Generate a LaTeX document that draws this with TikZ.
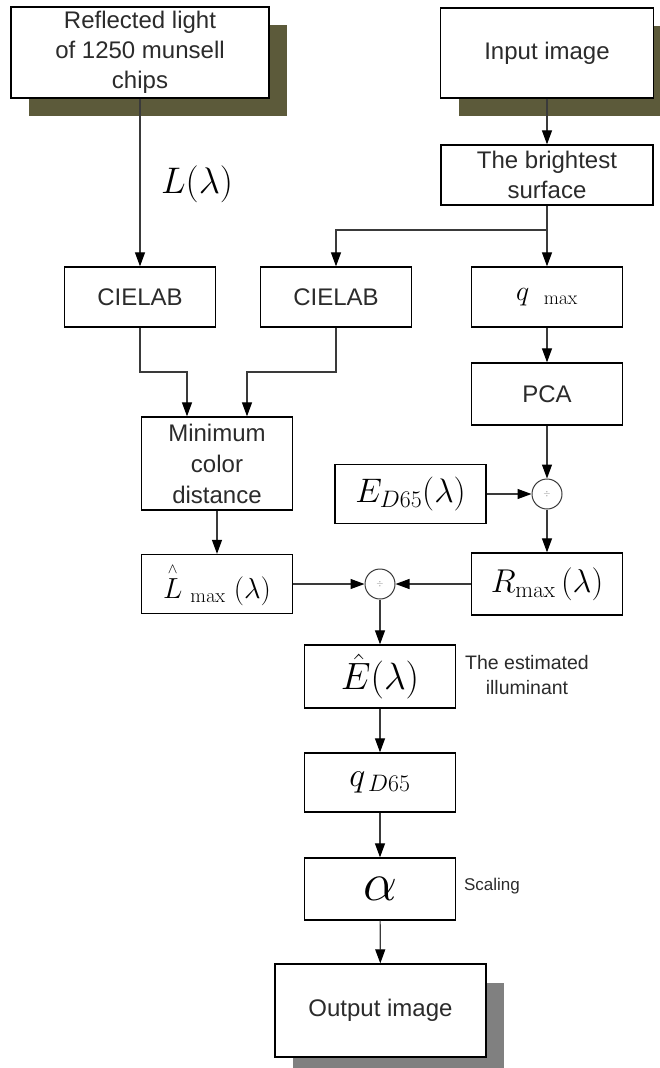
\RequirePackage{fix-cm}
\documentclass[tikz,border=0pt]{standalone}
\usepackage{amsmath}
\usepackage[no-math]{fontspec}
\setmainfont{Liberation Sans}
\usetikzlibrary{arrows.meta,shadows}
\definecolor{olivesh}{HTML}{5C5A3A}
\definecolor{graysh}{HTML}{808080}
\definecolor{lineg}{HTML}{3A3A3A}
\definecolor{txt}{HTML}{2B2B2B}
\begin{document}
\begin{tikzpicture}[x=1bp,y=-1bp,
  box/.style={draw=black, line width=1.3bp, fill=white, inner sep=0pt, text=txt,
    font=\fontsize{24bp}{30bp}\selectfont, align=center, minimum width=151bp},
  mbox/.style={box, font=\fontsize{30bp}{34bp}\selectfont, text=black},
  oshadow/.style={drop shadow={shadow xshift=18bp, shadow yshift=-18bp, fill=olivesh, opacity=1}},
  gshadow/.style={drop shadow={shadow xshift=18bp, shadow yshift=-19bp, fill=graysh, opacity=1}},
  opcirc/.style={circle, draw=lineg, line width=1bp, fill=white, minimum size=30bp, inner sep=0pt,
    font=\fontsize{9bp}{9bp}\selectfont, text=graysh},
  conn/.style={draw=lineg, line width=1.2bp},
  arr/.style={conn, -{Triangle[width=10bp,length=14bp,color=black,fill=black]}},
  lbl/.style={inner sep=0pt, text=txt, align=center}
]
\clip (0,0) rectangle (660,1068);
\fill[white] (0,0) rectangle (660,1068);

% top row
\node[box, oshadow, minimum width=258bp, minimum height=91bp] (refl) at (140,52.5)
  {Reflected light\\of 1250 munsell\\chips};
\node[box, oshadow, minimum width=213bp, minimum height=90bp] (input) at (547,53) {Input image};
\node[box, minimum width=212bp, minimum height=60bp] (bright) at (547,175) {The brightest\\surface};

% second row
\node[box, minimum height=60bp] (cie1) at (140,297) {CIELAB};
\node[box, minimum height=60bp] (cie2) at (336,297) {CIELAB};
\node[mbox, minimum height=60bp, font=\fontsize{28bp}{32bp}\selectfont] (qmax) at (547,297) {$q_{\ \ \mathrm{max}}$};
\node[box, minimum height=62bp] (pca) at (547,394) {PCA};

\node[box, minimum height=93bp, font=\fontsize{24bp}{31bp}\selectfont] (mincd) at (217,463.5) {Minimum\\color\\distance};
\node[mbox, minimum height=59bp, font=\fontsize{34bp}{36bp}\selectfont] (ed65) at (410.5,494) {$E_{D65}(\lambda)$};
\node[opcirc] (c1) at (547,494) {$\div$};

\node[mbox, minimum height=59bp, font=\fontsize{29bp}{32bp}\selectfont] (lhat) at (217,584)
  {$\overset{\scriptscriptstyle\wedge}{L}_{\ \mathrm{max}}\ (\lambda)$};
\node[mbox, minimum height=62bp, font=\fontsize{33bp}{36bp}\selectfont] (rmax) at (547,584) {$R_{\mathrm{max}}\,(\lambda)$};
\node[opcirc] (c2) at (380,584) {$\div$};

\node[mbox, minimum height=63bp, font=\fontsize{38bp}{40bp}\selectfont] (ehat) at (380,676.5) {$\hat{E}(\lambda)$};
\node[mbox, minimum height=59bp, font=\fontsize{34bp}{36bp}\selectfont] (qd65) at (380,782.5) {$q_{\,D65}$};
\node[mbox, minimum height=62bp, font=\fontsize{54bp}{56bp}\selectfont] (alpha) at (380,889) {$\alpha$};
\node[box, gshadow, minimum width=211bp, minimum height=93bp] (out) at (380.5,1010.5) {Output image};

% labels
\node[lbl, font=\fontsize{37bp}{40bp}\selectfont, text=black] (llab) at (197,184) {$L(\lambda)$};
\node[lbl, font=\fontsize{19.5bp}{25bp}\selectfont] (estlab) at (527,675) {The estimated\\illuminant};
\node[lbl, font=\fontsize{17bp}{20bp}\selectfont] (scalab) at (492,886) {Scaling};

% connectors
\coordinate (br) at (547,230);
\coordinate (m1) at (187,372);
\coordinate (m2) at (247,372);
\draw[arr] (refl.south) -- (cie1.north);
\draw[arr] (input) -- (bright);
\draw[arr] (bright) -- (qmax);
\draw[arr] (br) -| (cie2.north);
\draw[arr] (cie1.south) |- (m1) -- (m1 |- mincd.north);
\draw[arr] (cie2.south) |- (m2) -- (m2 |- mincd.north);
\draw[arr] (qmax) -- (pca);
\draw[arr] (pca) -- (c1);
\draw[arr] (ed65) -- (c1);
\draw[arr] (c1) -- (rmax);
\draw[arr] (mincd) -- (lhat);
\draw[arr] (lhat) -- (c2);
\draw[arr] (rmax) -- (c2);
\draw[arr] (c2) -- (ehat);
\draw[arr] (ehat) -- (qd65);
\draw[arr] (qd65) -- (alpha);
\draw[arr] (alpha) -- (out);
\end{tikzpicture}
\end{document}
